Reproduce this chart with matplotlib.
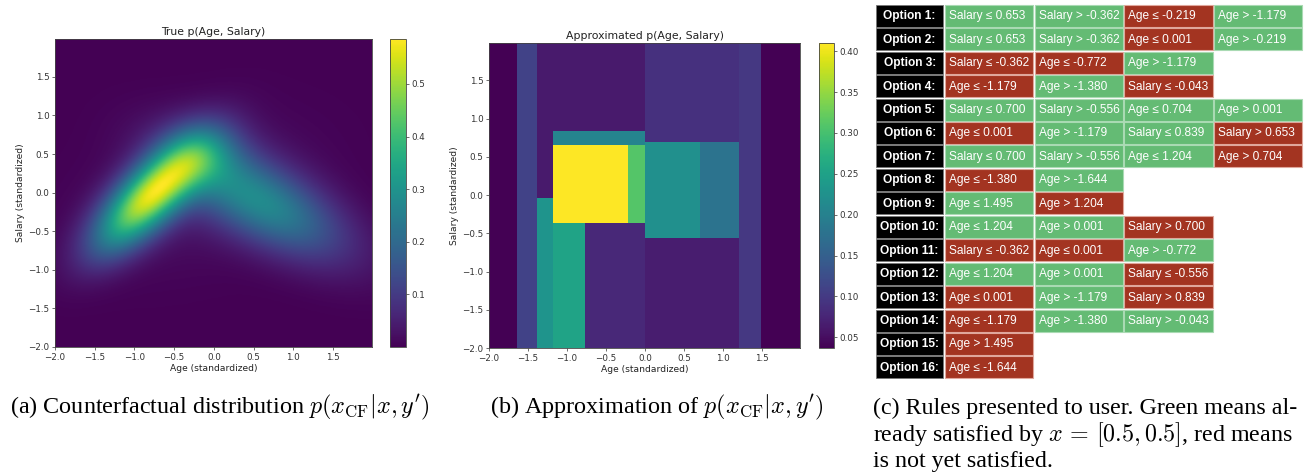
import numpy as np
import matplotlib
matplotlib.use("Agg")
import matplotlib.pyplot as plt
from matplotlib.patches import Rectangle

plt.rcParams['mathtext.fontset'] = 'cm'

# ---------------- data ----------------
# (a) true density: mixture of gaussian bumps
bump_cx    = [-0.78, -1.25, -0.10, 0.60, -0.20]
bump_cy    = [-0.02, -0.60,  0.50, -0.12, 0.00]
bump_sa    = [ 0.60,  0.35,  0.35, 0.80, 1.00]
bump_sb    = [ 0.25,  0.22,  0.30, 0.34, 0.60]
bump_theta = [ 45.0,  45.0,   0.0, -30.0, 20.0]
bump_amp   = [ 0.53,  0.04,  0.11, 0.26, 0.03]

# (b) approximation: piecewise constant on rule thresholds
age_edges = [-2.0, -1.644, -1.380, -1.179, -0.772, -0.219, 0.001, 0.704, 1.204, 1.495, 1.99]
sal_edges = [-2.0, -0.556, -0.362, -0.043, 0.653, 0.700, 0.839, 1.99]
# rows = salary intervals (bottom->top), cols = age intervals (left->right)
approx_vals = [
    [0.037, 0.110, 0.230, 0.253, 0.078, 0.078, 0.067, 0.067, 0.097, 0.037],
    [0.037, 0.110, 0.230, 0.253, 0.078, 0.078, 0.223, 0.179, 0.097, 0.037],
    [0.037, 0.110, 0.230, 0.410, 0.410, 0.310, 0.223, 0.179, 0.097, 0.037],
    [0.037, 0.110, 0.062, 0.410, 0.410, 0.310, 0.223, 0.179, 0.097, 0.037],
    [0.037, 0.110, 0.062, 0.205, 0.205, 0.205, 0.223, 0.179, 0.097, 0.037],
    [0.037, 0.110, 0.062, 0.205, 0.205, 0.205, 0.088, 0.088, 0.097, 0.037],
    [0.037, 0.110, 0.062, 0.063, 0.063, 0.063, 0.088, 0.088, 0.097, 0.037],
]

# (c) rules table
option_labels = [f"Option {i}:" for i in range(1, 17)]
rule_texts = [
    ["Salary ≤ 0.653", "Salary > -0.362", "Age ≤ -0.219", "Age > -1.179"],
    ["Salary ≤ 0.653", "Salary > -0.362", "Age ≤ 0.001", "Age > -0.219"],
    ["Salary ≤ -0.362", "Age ≤ -0.772", "Age > -1.179"],
    ["Age ≤ -1.179", "Age > -1.380", "Salary ≤ -0.043"],
    ["Salary ≤ 0.700", "Salary > -0.556", "Age ≤ 0.704", "Age > 0.001"],
    ["Age ≤ 0.001", "Age > -1.179", "Salary ≤ 0.839", "Salary > 0.653"],
    ["Salary ≤ 0.700", "Salary > -0.556", "Age ≤ 1.204", "Age > 0.704"],
    ["Age ≤ -1.380", "Age > -1.644"],
    ["Age ≤ 1.495", "Age > 1.204"],
    ["Age ≤ 1.204", "Age > 0.001", "Salary > 0.700"],
    ["Salary ≤ -0.362", "Age ≤ 0.001", "Age > -0.772"],
    ["Age ≤ 1.204", "Age > 0.001", "Salary ≤ -0.556"],
    ["Age ≤ 0.001", "Age > -1.179", "Salary > 0.839"],
    ["Age ≤ -1.179", "Age > -1.380", "Salary > -0.043"],
    ["Age > 1.495"],
    ["Age ≤ -1.644"],
]
rule_satisfied = [
    [1, 1, 0, 1], [1, 1, 0, 1], [0, 0, 1], [0, 1, 0],
    [1, 1, 1, 1], [0, 1, 1, 0], [1, 1, 1, 0], [0, 1],
    [1, 0], [1, 1, 0], [0, 0, 1], [1, 1, 0],
    [0, 1, 0], [0, 1, 1], [0], [0],
]

# ---------------- figure ----------------
W, H = 1316, 475
fig = plt.figure(figsize=(W / 100, H / 100), dpi=100)

def fr(x0, y0, x1, y1):
    return [x0 / W, 1 - y1 / H, (x1 - x0) / W, (y1 - y0) / H]

tick_fs = 6.3
lab_fs = 6.6
title_fs = 7.8
spine_c = '#444444'

def style_ax(ax):
    ax.tick_params(labelsize=tick_fs, length=2.5, width=0.5, pad=1.5, colors='#333333')
    for s in ax.spines.values():
        s.set_linewidth(0.6)
        s.set_color(spine_c)

def style_cb(cb):
    cb.ax.tick_params(labelsize=tick_fs, length=2.5, width=0.5, pad=1.5, colors='#333333')
    cb.outline.set_linewidth(0.6)
    cb.outline.set_edgecolor(spine_c)

# (a)
xs = np.arange(-2.0, 2.0, 0.01)
X, Y = np.meshgrid(xs, xs)
Z = np.zeros_like(X)
for cx, cy, sa, sb, th, amp in zip(bump_cx, bump_cy, bump_sa, bump_sb, bump_theta, bump_amp):
    t = np.deg2rad(th)
    u = (X - cx) * np.cos(t) + (Y - cy) * np.sin(t)
    v = -(X - cx) * np.sin(t) + (Y - cy) * np.cos(t)
    Z += amp * np.exp(-0.5 * ((u / sa) ** 2 + (v / sb) ** 2))

ax1 = fig.add_axes(fr(55, 39, 372, 347))
im1 = ax1.imshow(Z, origin='lower', extent=(-2, 1.99, -2, 1.99), aspect='auto',
                 cmap='viridis', interpolation='bilinear')
ax1.set_xticks(np.arange(-2.0, 1.6, 0.5))
ax1.set_yticks(np.arange(-2.0, 1.6, 0.5))
ax1.set_xlabel("Age (standardized)", fontsize=lab_fs, labelpad=1.5, color='#222222')
ax1.set_ylabel("Salary (standardized)", fontsize=lab_fs, labelpad=2, color='#222222')
ax1.set_title("True p(Age, Salary)", fontsize=title_fs, pad=3, color='#222222')
style_ax(ax1)
cax1 = fig.add_axes(fr(390, 39, 406, 347))
cb1 = fig.colorbar(im1, cax=cax1)
cb1.set_ticks([0.1, 0.2, 0.3, 0.4, 0.5])
style_cb(cb1)

# (b)
ax2 = fig.add_axes(fr(489, 43, 800, 348))
pm = ax2.pcolormesh(age_edges, sal_edges, np.array(approx_vals), cmap='viridis', shading='flat')
ax2.set_xlim(-2, 1.99)
ax2.set_ylim(-2, 1.99)
ax2.set_xticks(np.arange(-2.0, 1.6, 0.5))
ax2.set_yticks(np.arange(-2.0, 1.6, 0.5))
ax2.set_xlabel("Age (standardized)", fontsize=lab_fs, labelpad=1.5, color='#222222')
ax2.set_ylabel("Salary (standardized)", fontsize=lab_fs, labelpad=2, color='#222222')
ax2.set_title("Approximated p(Age, Salary)", fontsize=title_fs, pad=3, color='#222222')
style_ax(ax2)
cax2 = fig.add_axes(fr(819, 43, 834, 348))
cb2 = fig.colorbar(pm, cax=cax2)
cb2.set_ticks([0.05, 0.10, 0.15, 0.20, 0.25, 0.30, 0.35, 0.40])
cb2.ax.yaxis.set_major_formatter(matplotlib.ticker.FormatStrFormatter('%.2f'))
style_cb(cb2)

# (c) table, drawn in pixel coordinates
tab = fig.add_axes([0, 0, 1, 1], zorder=-1)
tab.set_xlim(0, W)
tab.set_ylim(H, 0)
tab.axis('off')

green, green_e = '#64bb74', '#a9dab3'
red, red_e = '#a33421', '#e0a79c'
row_top, row_pitch, row_h = 4.7, 23.45, 22.0
lab_x0, lab_w = 876, 67.3
cell_x0, cell_pitch, cell_w = 945, 89.7, 88.3
tfam = ['Liberation Sans', 'DejaVu Sans']
for i, (lab, rules, sat) in enumerate(zip(option_labels, rule_texts, rule_satisfied)):
    y0 = row_top + i * row_pitch
    tab.add_patch(Rectangle((lab_x0, y0), lab_w, row_h, facecolor='black',
                            edgecolor='#777777', linewidth=0.6))
    tab.text(lab_x0 + lab_w / 2, y0 + row_h / 2 + 0.5, lab, color='white',
             fontsize=8.6, fontweight='bold', ha='center', va='center', family=tfam)
    for j, (txt, s) in enumerate(zip(rules, sat)):
        x0 = cell_x0 + j * cell_pitch
        fc, ec = (green, green_e) if s else (red, red_e)
        tab.add_patch(Rectangle((x0, y0), cell_w, row_h, facecolor=fc,
                                edgecolor=ec, linewidth=0.8))
        tab.text(x0 + 4, y0 + row_h / 2 + 0.5, txt, color='white', fontsize=8.6,
                 ha='left', va='center', family=tfam)

# captions
serif = ['Liberation Serif', 'DejaVu Serif']
tab.text(220, 413, r"(a) Counterfactual distribution $p(x_{\mathrm{CF}}|x, y')$",
         fontsize=17.4, ha='center', va='baseline', family=serif)
tab.text(657, 413, r"(b) Approximation of $p(x_{\mathrm{CF}}|x, y')$",
         fontsize=17.4, ha='center', va='baseline', family=serif)
tab.text(873, 414, "(c) Rules presented to user. Green means al-",
         fontsize=17.3, ha='left', va='baseline', family=serif)
tab.text(873, 440.7, r"ready satisfied by $x\,=\,[0.5, 0.5]$, red means",
         fontsize=17.3, ha='left', va='baseline', family=serif)
tab.text(873, 466.7, "is not yet satisfied.",
         fontsize=17.3, ha='left', va='baseline', family=serif)

fig.savefig("out.png", dpi=100)
